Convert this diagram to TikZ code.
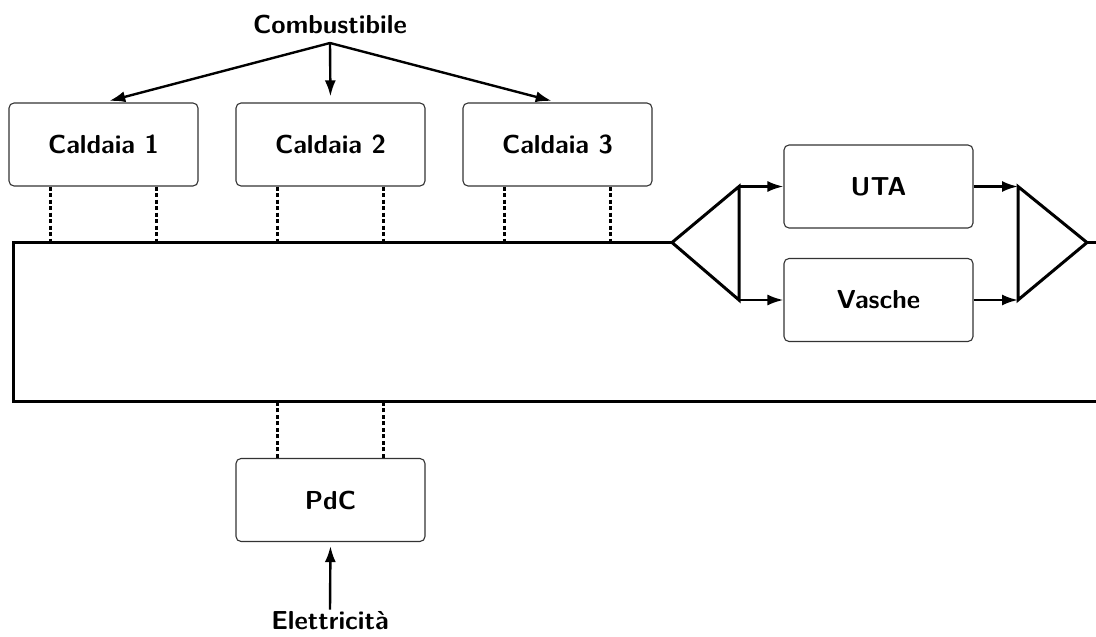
\documentclass[tikz,border=0pt]{standalone}
\usetikzlibrary{arrows.meta,calc}
\begin{document}
\begin{tikzpicture}[x=1pt,y=-1pt,
  font=\fontsize{26}{30}\selectfont\sffamily\bfseries,
  unit/.style={draw=black!80,line width=1.1pt,rounded corners=5pt,
    minimum width=189pt,minimum height=83pt,inner sep=0pt},
  label/.style={inner sep=2pt},
  flow/.style={line width=2.4pt,-{Latex[length=16pt,width=11pt]}},
  pipe/.style={line width=3pt,line join=miter},
  link/.style={line width=2.2pt,dash pattern=on 4pt off 2.5pt}]
\useasboundingbox (0,0) rectangle (1096,637);

% generators
\node[unit] (c1) at (103.5,144.5) {Caldaia 1};
\node[unit] (c2) at (330.5,144.5) {Caldaia 2};
\node[unit] (c3) at (557.5,144.5) {Caldaia 3};
\node[unit] (pdc) at (330.5,500) {PdC};

% users
\node[unit] (uta) at (878.5,186.5) {UTA};
\node[unit] (vasche) at (878.5,300) {Vasche};

% inputs
\node[label] (comb) at (330,24) {Combustibile};
\node[label] (elet) at (330,621) {Elettricità};
\coordinate (split) at (330,43);

\draw[flow,shorten >=6pt] (split) -- (c1.north);
\draw[flow,shorten >=6pt] (split) -- (c2.north);
\draw[flow,shorten >=6pt] (split) -- (c3.north);
\draw[flow,shorten >=4pt] (elet.north) -- (pdc.south);

% distribution loop
\coordinate (inTip) at (672,242.5);
\coordinate (inTop) at (739,186.5);
\coordinate (inBot) at (739,300);
\coordinate (outTip) at (1087,242.5);
\coordinate (outTop) at (1018,186.5);
\coordinate (outBot) at (1018,300);

\draw[pipe] (inTip) -- (13,242.5) -- (13,401.5) -- (1096,401.5);
\draw[pipe] (outTip) -- (1096,242.5);
\draw[pipe] (inTip) -- (inTop) -- (inBot) -- cycle;
\draw[pipe] (outTip) -- (outTop) -- (outBot) -- cycle;

\draw[flow] (inTop) -- (uta.west);
\draw[flow] (inBot) -- (vasche.west);
\draw[flow] (uta.east) -- (outTop);
\draw[flow] (vasche.east) -- (outBot);

% supply and return connections to the loop
\foreach \n in {c1,c2,c3}{
  \draw[link] ([xshift=-53pt]\n.south) -- ++(0,56);
  \draw[link] ([xshift=53pt]\n.south) -- ++(0,56);
}
\draw[link] ([xshift=-53pt]pdc.north) -- ++(0,-56);
\draw[link] ([xshift=53pt]pdc.north) -- ++(0,-56);
\end{tikzpicture}
\end{document}
